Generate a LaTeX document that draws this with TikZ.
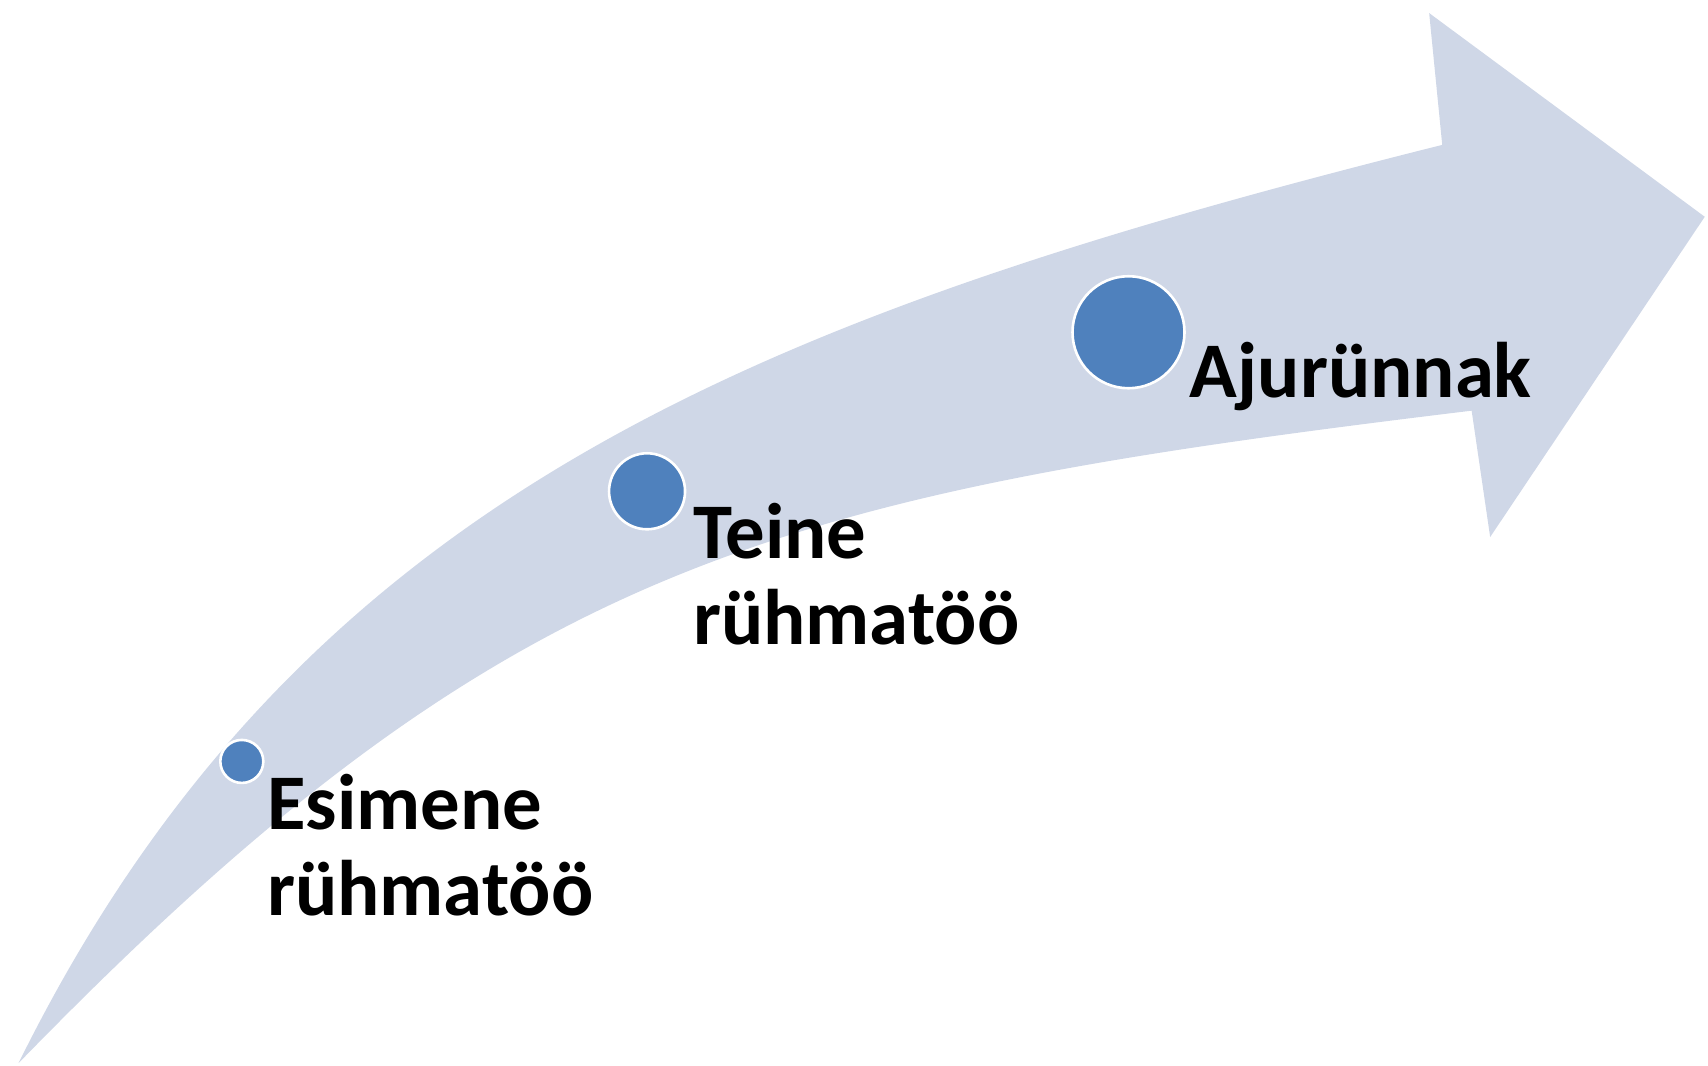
\documentclass[tikz,border=0pt]{standalone}
\usepackage{fontspec}
\setmainfont{Carlito}
\definecolor{band}{RGB}{207,215,231}
\definecolor{dot}{RGB}{79,129,189}
\begin{document}
\begin{tikzpicture}[x=0.5446pt,y=-0.5446pt,
  dotstyle/.style={circle,fill=dot,draw=white,line width=1.3pt,inner sep=0pt},
  lbl/.style={anchor=base west,inner sep=0pt,align=left,font=\fontsize{39.4}{43}\selectfont\bfseries}]
\useasboundingbox (0,0) rectangle (1568,978.6);
\fill[band] (17,976) .. controls (274,456) and (694,291) .. (1324,133)
  -- (1312,12) -- (1565,199) -- (1368,493) -- (1351,377)
  .. controls (707,455) and (465,515) .. (17,976) -- cycle;
\node[dotstyle,minimum size=21.5pt] (d1) at (222,699) {};
\node[dotstyle,minimum size=38pt] (d2) at (594,451) {};
\node[dotstyle,minimum size=56pt] (d3) at (1036,305) {};
\node[lbl] (t1) at (245,840) {Esimene\\rühmatöö};
\node[lbl] (t2) at (636,592) {Teine\\rühmatöö};
\node[lbl] (t3) at (1092,365) {Ajurünnak};
\end{tikzpicture}
\end{document}
